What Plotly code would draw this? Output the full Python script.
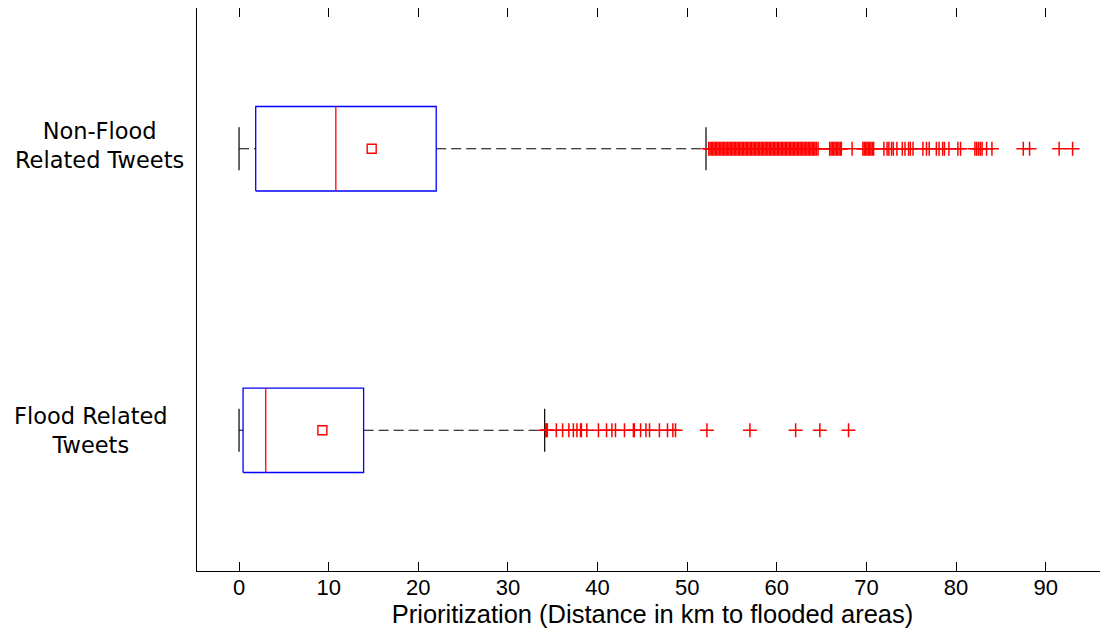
import plotly.graph_objects as go

# ---------------- data ----------------
groups = ["Flood Related<br>Tweets", "Non-Flood<br>Related Tweets"]
group_pos = [1, 2]
whisker_low = [0.0, 0.0]
q1 = [0.45, 1.86]
median = [2.98, 10.8]
q3 = [13.9, 22.0]
whisker_high = [34.1, 52.1]
means = [9.3, 14.8]

outliers_flood = [34.2, 34.3, 34.4, 35.4, 36.1, 36.8, 37.3, 37.7, 38.1, 38.2, 38.8,
                  40.1, 41.0, 41.6, 42.0, 43.0, 44.0, 44.1, 44.8, 45.4, 45.8, 46.9,
                  47.8, 48.4, 48.7, 52.2, 57.0, 62.1, 64.8, 68.0]

outliers_nonflood = [52.4, 52.55, 52.7, 52.85, 53.0, 53.15, 53.3, 53.45, 53.6, 53.75,
                     53.9, 54.05, 54.2, 54.35, 54.5, 54.65, 54.8, 54.95, 55.1, 55.25,
                     55.4, 55.55, 55.7, 55.85, 56.0, 56.15, 56.3, 56.45, 56.6, 56.75,
                     56.9, 57.05, 57.2, 57.35, 57.5, 57.65, 57.8, 57.95, 58.1, 58.25,
                     58.4, 58.55, 58.7, 58.85, 59.0, 59.15, 59.3, 59.45, 59.6, 59.75,
                     59.9, 60.05, 60.2, 60.35, 60.5, 60.65, 60.8, 60.95, 61.1, 61.25,
                     61.4, 61.55, 61.7, 61.85, 62.0, 62.15, 62.3, 62.45, 62.6, 62.75,
                     62.9, 63.05, 63.2, 63.35, 63.5, 63.65, 63.8, 63.95, 64.1, 64.25,
                     64.4, 64.6,
                     65.9, 66.05, 66.2, 66.35, 66.5, 66.65, 66.8, 66.95, 67.1, 67.2,
                     68.4,
                     69.6, 69.75, 69.9, 70.05, 70.2, 70.35, 70.5, 70.65, 70.8,
                     71.95, 72.3, 72.5, 72.8, 73.0, 73.4, 74.0, 74.3, 74.7, 74.9,
                     75.2, 76.3, 76.7, 77.0, 77.8, 78.1, 78.5, 78.7, 79.2, 80.2,
                     80.5, 82.1, 82.3, 82.5, 82.7, 82.9, 83.4, 84.0, 87.5, 88.2,
                     91.5, 93.0]
outliers = [outliers_flood, outliers_nonflood]

x_ticks = [0, 10, 20, 30, 40, 50, 60, 70, 80, 90]
x_title = "Prioritization (Distance in km to flooded areas)"

# ---------------- styling ----------------
BOX_HALF = 0.15
CAP_HALF = 0.0765
BLUE = "#0000ff"
RED = "#ff0000"

fig = go.Figure()

for i, yc in enumerate(group_pos):
    # whiskers (dashed)
    fig.add_trace(go.Scatter(
        x=[whisker_low[i], q1[i], None, q3[i], whisker_high[i]],
        y=[yc, yc, None, yc, yc], mode="lines",
        line=dict(color="black", width=1, dash="10px,5px"),
        showlegend=False, hoverinfo="skip"))
    # whisker caps
    fig.add_trace(go.Scatter(
        x=[whisker_low[i], whisker_low[i], None, whisker_high[i], whisker_high[i]],
        y=[yc - CAP_HALF, yc + CAP_HALF, None, yc - CAP_HALF, yc + CAP_HALF],
        mode="lines", line=dict(color="black", width=1.2),
        showlegend=False, hoverinfo="skip"))
    # box
    fig.add_trace(go.Scatter(
        x=[q1[i], q3[i], q3[i], q1[i], q1[i]],
        y=[yc - BOX_HALF, yc - BOX_HALF, yc + BOX_HALF, yc + BOX_HALF, yc - BOX_HALF],
        mode="lines", line=dict(color=BLUE, width=1.3),
        showlegend=False, hoverinfo="skip"))
    # median
    fig.add_trace(go.Scatter(
        x=[median[i], median[i]], y=[yc - BOX_HALF, yc + BOX_HALF],
        mode="lines", line=dict(color=RED, width=1.3),
        showlegend=False, hoverinfo="skip"))
    # mean
    fig.add_trace(go.Scatter(
        x=[means[i]], y=[yc], mode="markers",
        marker=dict(symbol="square-open", size=9, color=RED, line=dict(color=RED, width=1.4)),
        showlegend=False, hoverinfo="skip"))
    # outliers
    fig.add_trace(go.Scatter(
        x=outliers[i], y=[yc] * len(outliers[i]), mode="markers",
        marker=dict(symbol="cross-thin-open", size=10, color=RED,
                    line=dict(color=RED, width=1.5)),
        showlegend=False, hoverinfo="skip"))

annotations = []
label_xshift = [-106, -98]   # flood, non-flood
label_yshift = [0, 3]
for i, yc in enumerate(group_pos):
    annotations.append(dict(
        text=groups[i], xref="paper", yref="y", x=0, y=yc,
        xanchor="center", yanchor="middle",
        xshift=label_xshift[i], yshift=label_yshift[i],
        align="center", showarrow=False,
        font=dict(family="DejaVu Sans", size=22.5, color="black")))

# the page body adds an 8px offset, so the figure is 8px smaller and margins compensate
fig.update_layout(
    width=1100, height=622,
    margin=dict(l=189, r=0, t=0, b=59),
    paper_bgcolor="white", plot_bgcolor="white",
    annotations=annotations,
    xaxis=dict(
        range=[-4.69, 96.95], tickvals=x_ticks,
        ticks="inside", ticklen=9, tickwidth=1, tickcolor="black",
        showline=True, linecolor="black", linewidth=1, mirror="ticks",
        showgrid=False, zeroline=False, ticklabelstandoff=-3,
        tickfont=dict(family="Liberation Sans, Arial", size=22, color="black"),
        title=dict(text=x_title, standoff=0,
                   font=dict(family="Liberation Sans, Arial", size=25.5, color="black")),
    ),
    yaxis=dict(
        range=[0.5, 2.5], showticklabels=False, ticks="",
        showline=True, linecolor="black", linewidth=1, mirror=False,
        showgrid=False, zeroline=False,
    ),
)

fig.write_html("out.html")
